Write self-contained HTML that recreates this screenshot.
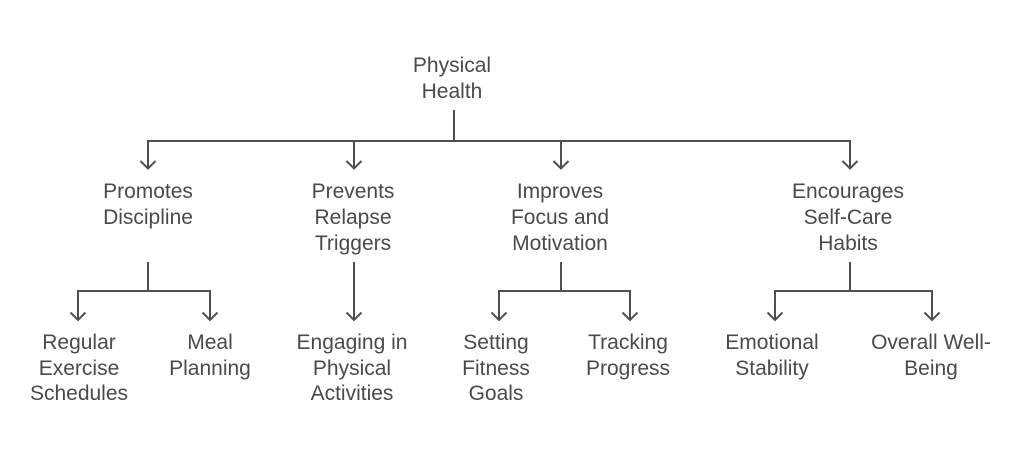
<!DOCTYPE html>
<html>
<head>
<meta charset="utf-8">
<style>
  html, body { margin: 0; padding: 0; background: #ffffff; }
  body { width: 1024px; height: 459px; overflow: hidden; }
  svg { display: block; }
  text { font-family: "Liberation Sans", Arial, sans-serif; font-size: 21px; fill: #4a4a4a; text-anchor: middle; }
</style>
</head>
<body>
<svg width="1024" height="459" viewBox="0 0 1024 459" xmlns="http://www.w3.org/2000/svg">
  <g fill="none" stroke="#4f4f4f" stroke-width="2" stroke-linecap="butt" stroke-linejoin="miter">
    <!-- root connector -->
    <path d="M454 110 V141"/>
    <path d="M148 168 V141 H850 V168"/>
    <path d="M354 141 V168"/>
    <path d="M561 141 V168"/>
    <!-- level 1 arrowheads -->
    <path d="M140.5 161 L148 168.5 L155.5 161"/>
    <path d="M346.5 161 L354 168.5 L361.5 161"/>
    <path d="M553.5 161 L561 168.5 L568.5 161"/>
    <path d="M842.5 161 L850 168.5 L857.5 161"/>

    <!-- Promotes Discipline children -->
    <path d="M148 262 V291"/>
    <path d="M78 320 V291 H210 V320"/>
    <path d="M70.5 312.5 L78 320 L85.5 312.5"/>
    <path d="M202.5 312.5 L210 320 L217.5 312.5"/>

    <!-- Prevents child -->
    <path d="M354 262 V320"/>
    <path d="M346.5 312.5 L354 320 L361.5 312.5"/>

    <!-- Improves children -->
    <path d="M561 262 V291"/>
    <path d="M499 320 V291 H630 V320"/>
    <path d="M491.5 312.5 L499 320 L506.5 312.5"/>
    <path d="M622.5 312.5 L630 320 L637.5 312.5"/>

    <!-- Encourages children -->
    <path d="M850 262 V291"/>
    <path d="M775 320 V291 H932 V320"/>
    <path d="M767.5 312.5 L775 320 L782.5 312.5"/>
    <path d="M924.5 312.5 L932 320 L939.5 312.5"/>
  </g>

  <!-- root -->
  <text x="452" y="72">Physical</text>
  <text x="452" y="98">Health</text>

  <!-- level 1 -->
  <text x="148" y="198">Promotes</text>
  <text x="148" y="224">Discipline</text>

  <text x="353" y="198">Prevents</text>
  <text x="353" y="224">Relapse</text>
  <text x="353" y="250">Triggers</text>

  <text x="560" y="198">Improves</text>
  <text x="560" y="224">Focus and</text>
  <text x="560" y="250">Motivation</text>

  <text x="848" y="198">Encourages</text>
  <text x="848" y="224">Self-Care</text>
  <text x="848" y="250">Habits</text>

  <!-- leaves -->
  <text x="79" y="349">Regular</text>
  <text x="79" y="375">Exercise</text>
  <text x="79" y="400">Schedules</text>

  <text x="210" y="349">Meal</text>
  <text x="210" y="375">Planning</text>

  <text x="352" y="349">Engaging in</text>
  <text x="352" y="375">Physical</text>
  <text x="352" y="400">Activities</text>

  <text x="496" y="349">Setting</text>
  <text x="496" y="375">Fitness</text>
  <text x="496" y="400">Goals</text>

  <text x="628" y="349">Tracking</text>
  <text x="628" y="375">Progress</text>

  <text x="772" y="349">Emotional</text>
  <text x="772" y="375">Stability</text>

  <text x="931" y="349">Overall Well-</text>
  <text x="931" y="375">Being</text>
</svg>
</body>
</html>
